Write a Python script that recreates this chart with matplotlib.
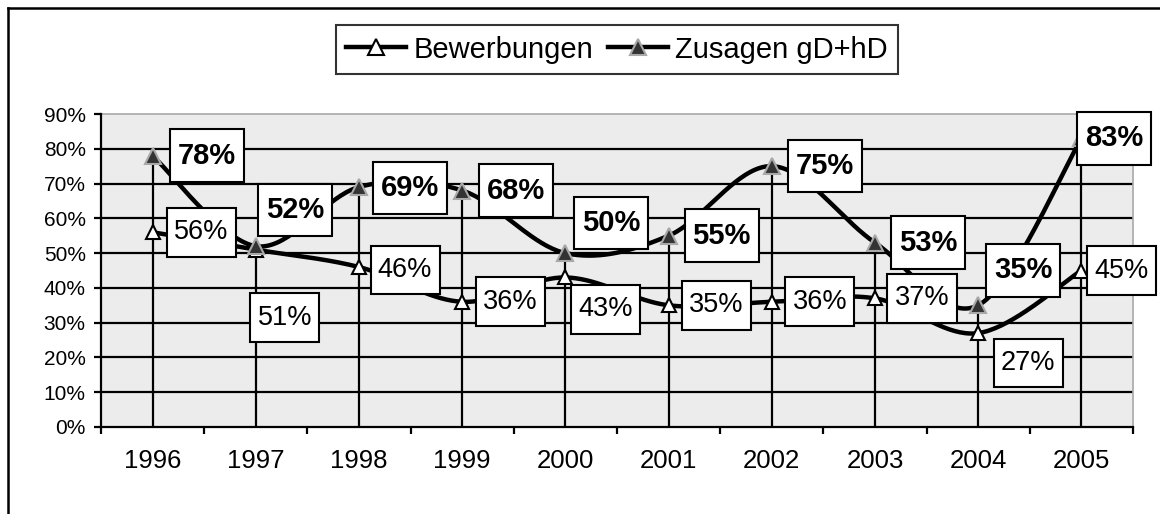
import numpy as np
import matplotlib
matplotlib.use("Agg")
import matplotlib.pyplot as plt
from matplotlib.lines import Line2D
from matplotlib.path import Path

plt.rcParams['font.family'] = ['Liberation Sans', 'DejaVu Sans']

years = ['1996', '1997', '1998', '1999', '2000', '2001', '2002', '2003', '2004', '2005']
bewerbungen = [56, 51, 46, 36, 43, 35, 36, 37, 27, 45]
zusagen = [78, 52, 69, 68, 50, 55, 75, 53, 35, 83]

# label offsets in pixels (dx right, dy down)
off_bew = [(49, 0), (29, 68), (46, 3), (48, 0), (40, 32), (48, 0), (48, 0), (47, 0), (50, 30), (40, 0)]
off_zus = [(54, 0), (39, -36), (51, 1), (54, 0), (46, -30), (53, 0), (53, 0), (53, 0), (45, -35), (33, 0)]

DPI = 100
PX = 72.0 / DPI


def smooth(xs, ys, n=40):
    # bezier smoothing like the spreadsheet "smoothed line"
    p = np.column_stack([xs, ys]).astype(float)
    ext = np.vstack([p[0], p, p[-1]])
    out = []
    for i in range(len(p) - 1):
        p0, p3 = p[i], p[i + 1]
        c1 = p0 + (ext[i + 2] - ext[i]) / 6.0
        c2 = p3 - (ext[i + 3] - ext[i + 1]) / 6.0
        t = np.linspace(0, 1, n)[:, None]
        seg = ((1 - t) ** 3) * p0 + 3 * ((1 - t) ** 2) * t * c1 + 3 * (1 - t) * t ** 2 * c2 + t ** 3 * p3
        out.append(seg if i == 0 else seg[1:])
    s = np.vstack(out)
    return s[:, 0], s[:, 1]


def label_box(x0, y0, width, height, mutation_size):
    # rectangle with more padding top/bottom than left/right
    px, py = 0.27 * mutation_size, 0.42 * mutation_size
    x0, y0 = x0 - px, y0 - py
    x1, y1 = x0 + width + 2 * px, y0 + height + 2 * py
    return Path([(x0, y0), (x1, y0), (x1, y1), (x0, y1), (x0, y0)], closed=True)


fig = plt.figure(figsize=(11.6, 5.14), dpi=DPI)
ax = fig.add_axes([101 / 1160, 1 - 427 / 514, (1133 - 101) / 1160, (427 - 114) / 514])
ax.set_facecolor('#ececec')

x = np.arange(len(years))
ax.set_xlim(-0.5, len(years) - 0.5)
ax.set_ylim(0, 90)

# grid lines
for g in range(10, 90, 10):
    ax.axhline(g, color='black', lw=1.6, zorder=1)

# drop lines
ax.vlines(x, 0, np.maximum(bewerbungen, zusagen), color='black', lw=1.6, zorder=2)

sx, sy = smooth(x, bewerbungen)
ax.plot(sx, sy, color='black', lw=3.2, zorder=3, solid_capstyle='round')
sx, sy = smooth(x, zusagen)
ax.plot(sx, sy, color='black', lw=3.2, zorder=3, solid_capstyle='round')

ax.plot(x, bewerbungen, ls='none', marker='^', ms=10.5, mfc='white', mec='black', mew=1.5, zorder=4)
ax.plot(x, zusagen, ls='none', marker='^', ms=11.5, mfc='#333333', mec='#a8a8a8', mew=1.5, zorder=4)

box = dict(boxstyle=label_box, fc='white', ec='black', lw=1.5)
for i in range(len(years)):
    dx, dy = off_bew[i]
    ax.annotate(f'{bewerbungen[i]}%', (x[i], bewerbungen[i]), xytext=(dx * PX, -dy * PX),
                textcoords='offset points', ha='center', va='center', fontsize=19.5,
                bbox=box, zorder=6, annotation_clip=False)
    dx, dy = off_zus[i]
    ax.annotate(f'{zusagen[i]}%', (x[i], zusagen[i]), xytext=(dx * PX, -dy * PX),
                textcoords='offset points', ha='center', va='center', fontsize=21,
                fontweight='bold', bbox=box, zorder=7, annotation_clip=False)

# axes styling
ax.set_yticks(range(0, 91, 10))
ax.set_yticklabels([f'{v}%' for v in range(0, 91, 10)], fontsize=15)
ax.tick_params(axis='y', length=5, width=1.6, pad=6)
ax.set_xticks(np.arange(-0.5, len(years), 1.0))
ax.set_xticklabels([])
ax.tick_params(axis='x', which='major', length=5, width=1.6, direction='out')
ax.set_xticks(x, minor=True)
ax.set_xticklabels(years, minor=True, fontsize=18.5)
ax.tick_params(axis='x', which='minor', length=0, pad=16)
for s in ['left', 'bottom']:
    ax.spines[s].set_linewidth(1.6)
    ax.spines[s].set_zorder(5)
for s in ['top', 'right']:
    ax.spines[s].set_color('#a8a8a8')
    ax.spines[s].set_linewidth(1.2)

handles = [
    Line2D([], [], color='black', lw=3.2, marker='^', ms=11, mfc='white', mec='black', mew=1.5),
    Line2D([], [], color='black', lw=3.2, marker='^', ms=12, mfc='#333333', mec='#a8a8a8', mew=1.5),
]
leg = fig.legend(handles, ['Bewerbungen', 'Zusagen gD+hD'], loc='center',
                 bbox_to_anchor=(617 / 1160, 1 - 49.5 / 514), ncol=2, fontsize=21,
                 frameon=True, fancybox=False, handlelength=2.05, handletextpad=0.25,
                 columnspacing=0.5, borderpad=0.35, borderaxespad=0)
leg.get_frame().set_edgecolor('black')
leg.get_frame().set_linewidth(1.5)

# outer chart frame
fig.add_artist(Line2D([7.5 / 1160, 1.01], [1 - 7.5 / 514, 1 - 7.5 / 514], color='black', lw=1.8))
fig.add_artist(Line2D([7.5 / 1160, 7.5 / 1160], [-0.01, 1 - 7.5 / 514], color='black', lw=1.8))

fig.savefig('out.png', dpi=DPI)
